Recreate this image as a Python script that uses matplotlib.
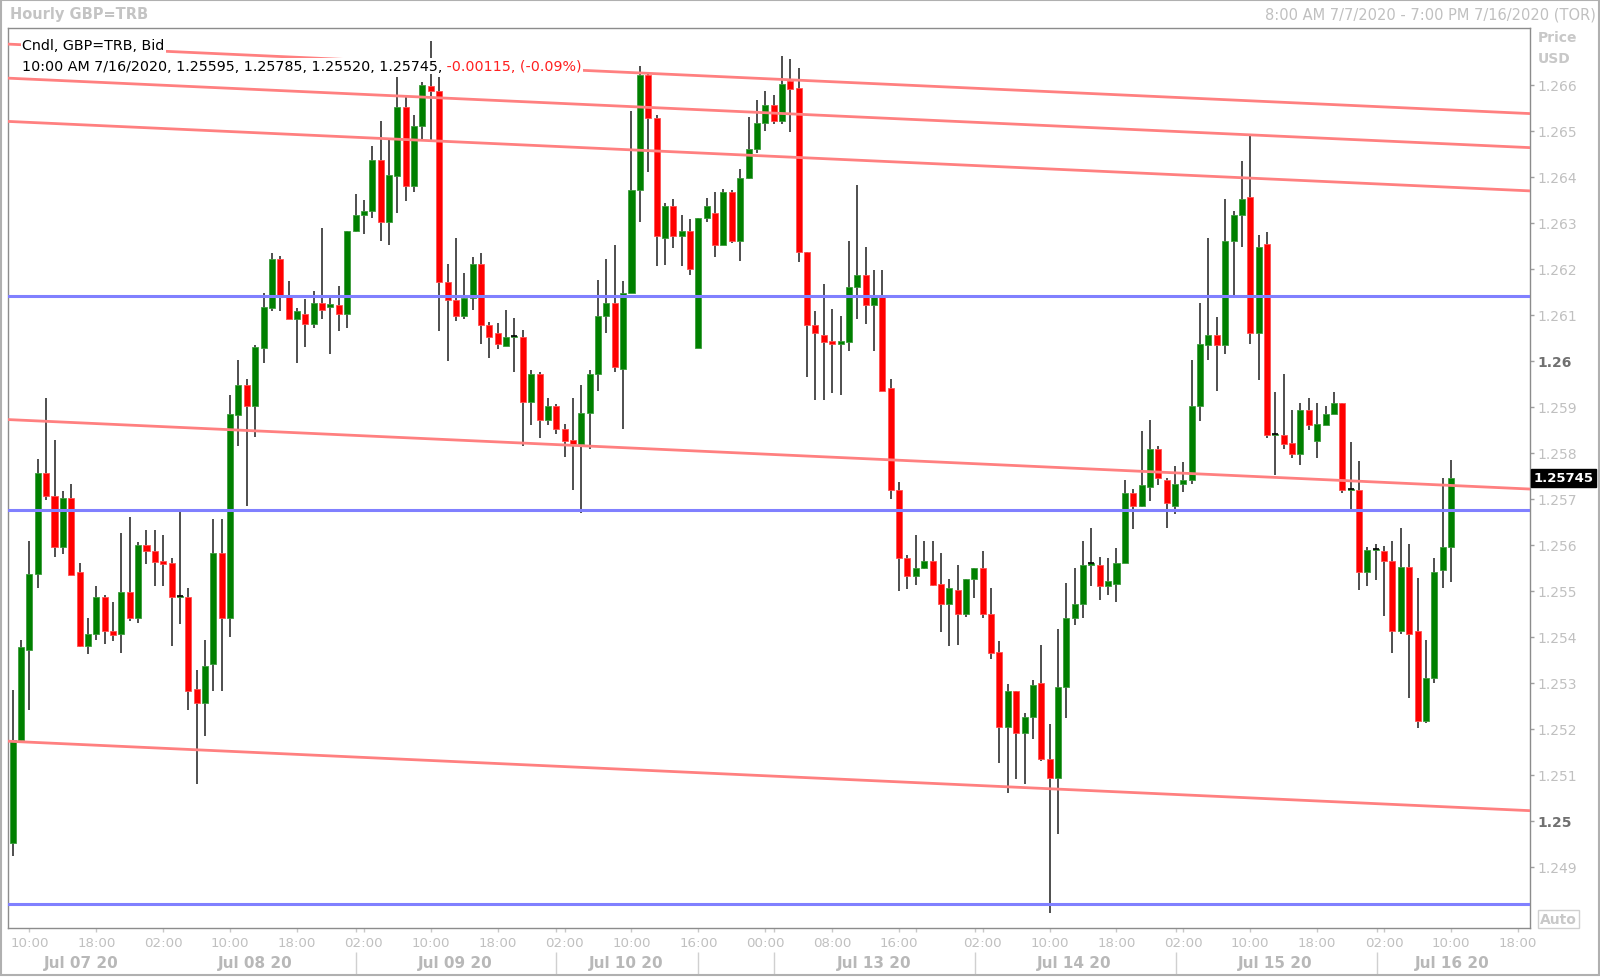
#!/usr/bin/env python3
"""
Hourly GBP candlestick chart with channel lines and horizontal levels
"""

import matplotlib
matplotlib.use('Agg')
import matplotlib.pyplot as plt
import matplotlib.transforms as mtransforms
from matplotlib.patches import Rectangle
import numpy as np

# Hourly candles, 8:00 AM 7/7/2020 -> 10:00 AM 7/16/2020
opens = [
    1.24952, 1.25176, 1.25371, 1.25536, 1.25755, 1.25706, 1.25595, 1.25702, 1.25540, 1.25380,
    1.25406, 1.25487, 1.25412, 1.25406, 1.25497, 1.25440, 1.25600, 1.25586, 1.25565, 1.25560,
    1.25487, 1.25487, 1.25286, 1.25257, 1.25340, 1.25583, 1.25440, 1.25883, 1.25947, 1.25901,
    1.26027, 1.26114, 1.26221, 1.26140, 1.26090, 1.26102, 1.26079, 1.26126, 1.26116, 1.26122,
    1.26101, 1.26281, 1.26316, 1.26325, 1.26436, 1.26302, 1.26401, 1.26552, 1.26380, 1.26511,
    1.26596, 1.26587, 1.26172, 1.26131, 1.26096, 1.26137, 1.26211, 1.26078, 1.26061, 1.26031,
    1.26052, 1.26052, 1.25910, 1.25971, 1.25870, 1.25901, 1.25851, 1.25828, 1.25818, 1.25886,
    1.25971, 1.26098, 1.26126, 1.25982, 1.26148, 1.26372, 1.26620, 1.26527, 1.26267, 1.26337,
    1.26271, 1.26281, 1.26027, 1.26311, 1.26322, 1.26252, 1.26366, 1.26259, 1.26397, 1.26461,
    1.26517, 1.26556, 1.26521, 1.26607, 1.26593, 1.26236, 1.26078, 1.26055, 1.26042, 1.26037,
    1.26040, 1.26160, 1.26186, 1.26121, 1.26139, 1.25941, 1.25718, 1.25571, 1.25532, 1.25550,
    1.25565, 1.25515, 1.25471, 1.25501, 1.25450, 1.25526, 1.25550, 1.25450, 1.25367, 1.25204,
    1.25282, 1.25190, 1.25226, 1.25300, 1.25135, 1.25093, 1.25291, 1.25440, 1.25471, 1.25557,
    1.25557, 1.25510, 1.25514, 1.25560, 1.25712, 1.25685, 1.25726, 1.25807, 1.25741, 1.25685,
    1.25731, 1.25741, 1.25901, 1.26033, 1.26055, 1.26033, 1.26259, 1.26316, 1.26355, 1.26061,
    1.26253, 1.25838, 1.25838, 1.25821, 1.25798, 1.25893, 1.25825, 1.25860, 1.25885, 1.25907,
    1.25720, 1.25720, 1.25540, 1.25588, 1.25586, 1.25565, 1.25412, 1.25551, 1.25412, 1.25216,
    1.25310, 1.25545, 1.25595,
]
highs = [
    1.25284, 1.25392, 1.25609, 1.25786, 1.25919, 1.25827, 1.25717, 1.25731, 1.25561, 1.25441,
    1.25510, 1.25491, 1.25476, 1.25625, 1.25660, 1.25606, 1.25633, 1.25633, 1.25621, 1.25571,
    1.25673, 1.25505, 1.25328, 1.25394, 1.25656, 1.25656, 1.25926, 1.26001, 1.25961, 1.26035,
    1.26148, 1.26233, 1.26227, 1.26174, 1.26114, 1.26134, 1.26151, 1.26288, 1.26142, 1.26163,
    1.26281, 1.26363, 1.26349, 1.26467, 1.26521, 1.26479, 1.26616, 1.26572, 1.26535, 1.26605,
    1.26695, 1.26616, 1.26211, 1.26267, 1.26191, 1.26226, 1.26233, 1.26083, 1.26081, 1.26111,
    1.26093, 1.26067, 1.25980, 1.25975, 1.25919, 1.25905, 1.25863, 1.25919, 1.25947, 1.25980,
    1.26176, 1.26221, 1.26252, 1.26174, 1.26543, 1.26640, 1.26628, 1.26535, 1.26343, 1.26351,
    1.26316, 1.26308, 1.26311, 1.26354, 1.26366, 1.26374, 1.26372, 1.26416, 1.26529, 1.26566,
    1.26587, 1.26578, 1.26663, 1.26655, 1.26637, 1.26236, 1.26107, 1.26167, 1.26113, 1.26096,
    1.26261, 1.26381, 1.26246, 1.26197, 1.26197, 1.25961, 1.25737, 1.25577, 1.25621, 1.25609,
    1.25608, 1.25582, 1.25526, 1.25556, 1.25526, 1.25550, 1.25587, 1.25505, 1.25391, 1.25297,
    1.25282, 1.25235, 1.25306, 1.25381, 1.25211, 1.25416, 1.25516, 1.25550, 1.25609, 1.25636,
    1.25574, 1.25571, 1.25592, 1.25741, 1.25722, 1.25848, 1.25871, 1.25815, 1.25745, 1.25772,
    1.25780, 1.26002, 1.26126, 1.26267, 1.26095, 1.26351, 1.26326, 1.26433, 1.26490, 1.26273,
    1.26280, 1.25931, 1.25971, 1.25893, 1.25907, 1.25919, 1.25907, 1.25901, 1.25932, 1.25907,
    1.25823, 1.25781, 1.25594, 1.25601, 1.25598, 1.25609, 1.25636, 1.25601, 1.25528, 1.25394,
    1.25571, 1.25745, 1.25785,
]
lows = [
    1.24923, 1.25173, 1.25241, 1.25505, 1.25697, 1.25574, 1.25580, 1.25534, 1.25377, 1.25362,
    1.25394, 1.25385, 1.25391, 1.25365, 1.25434, 1.25429, 1.25559, 1.25510, 1.25510, 1.25380,
    1.25427, 1.25241, 1.25080, 1.25185, 1.25281, 1.25281, 1.25400, 1.25815, 1.25685, 1.25834,
    1.25994, 1.26107, 1.26107, 1.26090, 1.25994, 1.26029, 1.26072, 1.26090, 1.26014, 1.26064,
    1.26070, 1.26279, 1.26275, 1.26311, 1.26259, 1.26252, 1.26320, 1.26346, 1.26366, 1.26479,
    1.26479, 1.26064, 1.26000, 1.26087, 1.26090, 1.26111, 1.26037, 1.26005, 1.26026, 1.26031,
    1.25976, 1.25815, 1.25860, 1.25831, 1.25860, 1.25840, 1.25790, 1.25720, 1.25668, 1.25807,
    1.25933, 1.26061, 1.25976, 1.25851, 1.26148, 1.26302, 1.26409, 1.26205, 1.26209, 1.26244,
    1.26205, 1.26186, 1.26027, 1.26302, 1.26226, 1.26252, 1.26256, 1.26217, 1.26395, 1.26451,
    1.26500, 1.26515, 1.26515, 1.26496, 1.26215, 1.25964, 1.25915, 1.25915, 1.25930, 1.25926,
    1.26020, 1.26090, 1.26079, 1.26020, 1.25933, 1.25700, 1.25499, 1.25504, 1.25513, 1.25548,
    1.25510, 1.25410, 1.25379, 1.25381, 1.25443, 1.25485, 1.25440, 1.25352, 1.25125, 1.25060,
    1.25090, 1.25080, 1.25178, 1.25129, 1.24800, 1.24971, 1.25223, 1.25426, 1.25440, 1.25510,
    1.25479, 1.25491, 1.25476, 1.25560, 1.25635, 1.25681, 1.25694, 1.25729, 1.25636, 1.25667,
    1.25714, 1.25731, 1.25869, 1.26002, 1.25933, 1.26014, 1.26137, 1.26246, 1.26037, 1.25959,
    1.25831, 1.25752, 1.25808, 1.25789, 1.25774, 1.25850, 1.25789, 1.25860, 1.25885, 1.25712,
    1.25671, 1.25501, 1.25510, 1.25524, 1.25444, 1.25365, 1.25406, 1.25266, 1.25202, 1.25212,
    1.25299, 1.25505, 1.25520,
]
closes = [
    1.25176, 1.25377, 1.25536, 1.25755, 1.25706, 1.25595, 1.25702, 1.25534, 1.25379, 1.25406,
    1.25487, 1.25412, 1.25404, 1.25497, 1.25440, 1.25600, 1.25586, 1.25563, 1.25559, 1.25487,
    1.25489, 1.25281, 1.25257, 1.25336, 1.25583, 1.25440, 1.25885, 1.25947, 1.25901, 1.26029,
    1.26116, 1.26221, 1.26140, 1.26090, 1.26108, 1.26079, 1.26126, 1.26110, 1.26123, 1.26101,
    1.26281, 1.26316, 1.26325, 1.26436, 1.26302, 1.26403, 1.26552, 1.26380, 1.26511, 1.26599,
    1.26587, 1.26172, 1.26131, 1.26096, 1.26137, 1.26211, 1.26078, 1.26051, 1.26037, 1.26052,
    1.26053, 1.25910, 1.25971, 1.25870, 1.25901, 1.25851, 1.25826, 1.25818, 1.25886, 1.25971,
    1.26098, 1.26126, 1.25986, 1.26148, 1.26372, 1.26620, 1.26527, 1.26271, 1.26337, 1.26271,
    1.26282, 1.26200, 1.26311, 1.26337, 1.26252, 1.26366, 1.26259, 1.26397, 1.26461, 1.26517,
    1.26556, 1.26521, 1.26602, 1.26591, 1.26236, 1.26078, 1.26061, 1.26040, 1.26037, 1.26042,
    1.26160, 1.26186, 1.26121, 1.26139, 1.25933, 1.25718, 1.25571, 1.25532, 1.25550, 1.25565,
    1.25513, 1.25471, 1.25505, 1.25450, 1.25526, 1.25550, 1.25450, 1.25365, 1.25204, 1.25282,
    1.25190, 1.25226, 1.25296, 1.25135, 1.25093, 1.25291, 1.25440, 1.25471, 1.25556, 1.25560,
    1.25510, 1.25522, 1.25560, 1.25712, 1.25685, 1.25729, 1.25807, 1.25745, 1.25691, 1.25731,
    1.25741, 1.25901, 1.26037, 1.26055, 1.26033, 1.26259, 1.26316, 1.26351, 1.26061, 1.26247,
    1.25838, 1.25840, 1.25819, 1.25798, 1.25893, 1.25860, 1.25862, 1.25885, 1.25907, 1.25720,
    1.25721, 1.25540, 1.25588, 1.25590, 1.25565, 1.25412, 1.25551, 1.25406, 1.25216, 1.25310,
    1.25540, 1.25595, 1.25745,
]

# time axis (candle index of each label)
hour_ticks = [2, 10, 18, 26, 34, 42, 50, 58, 66, 74, 82, 90, 98, 106,
              116, 124, 132, 140, 148, 156, 164, 172, 180]
hour_labels = ['10:00', '18:00', '02:00', '10:00', '18:00', '02:00', '10:00', '18:00',
               '02:00', '10:00', '16:00', '00:00', '08:00', '16:00', '02:00', '10:00',
               '18:00', '02:00', '10:00', '18:00', '02:00', '10:00', '18:00']
day_label_pos = [8.2, 29.0, 52.9, 73.4, 103.0, 127.0, 151.0, 172.2]
day_labels = ['Jul 07 20', 'Jul 08 20', 'Jul 09 20', 'Jul 10 20',
              'Jul 13 20', 'Jul 14 20', 'Jul 15 20', 'Jul 16 20']
day_breaks = [41.0, 65.0, 82.0, 91.1, 115.1, 139.1, 163.2]
minor_ticks = [41.0, 65.0, 91.1, 108.0, 115.1, 139.1, 163.2]

# drawn lines
level_prices = [1.26141, 1.25676, 1.24819]
channel_left = [1.26688, 1.26614, 1.26520, 1.25872, 1.25173]
channel_right = [1.26537, 1.26463, 1.26369, 1.25721, 1.25022]

price_ticks = [1.249, 1.250, 1.251, 1.252, 1.253, 1.254, 1.255, 1.256, 1.257,
               1.258, 1.259, 1.260, 1.261, 1.262, 1.263, 1.264, 1.265, 1.266]
last_price = 1.25745


def create_chart():
    W, H = 1600, 978
    fig = plt.figure(figsize=(W / 100, H / 100), dpi=100)
    fig.patch.set_facecolor('white')

    # plot area in pixels: x 8..1530, y 29..929
    ax = fig.add_axes([8 / W, 1 - 929 / H, 1522 / W, 900 / H])
    x_min, x_max = -0.562, 181.45
    ax.set_xlim(x_min, x_max)
    ax.set_ylim(1.24767, 1.26723)

    colors = {
        'up': '#008000', 'up_edge': '#3c9c3c',
        'down': '#ff0000', 'down_edge': '#ff5050',
        'wick': '#404040',
        'channel': '#ff8080',
        'level': '#8080ff',
        'axis_text': '#c0c0c0',
        'frame': '#8c8c8c',
    }

    # candles
    o, h, l, c = (np.array(a) for a in (opens, highs, lows, closes))
    x = np.arange(len(o))
    up = c >= o
    body_w = 0.72
    ax.vlines(x, l, h, color=colors['wick'], lw=1.3, zorder=3)
    ax.bar(x[up], (c - o)[up], bottom=o[up], width=body_w, color=colors['up'],
           edgecolor=colors['up_edge'], linewidth=0.6, zorder=4)
    ax.bar(x[~up], (o - c)[~up], bottom=c[~up], width=body_w, color=colors['down'],
           edgecolor=colors['down_edge'], linewidth=0.6, zorder=4)
    doji = np.abs(c - o) < 0.00004
    ax.hlines(c[doji], x[doji] - body_w / 2, x[doji] + body_w / 2,
              color='black', lw=1.2, zorder=4)

    # channel lines and horizontal levels
    for pl, pr in zip(channel_left, channel_right):
        ax.plot([x_min, x_max], [pl, pr], color=colors['channel'], lw=2, zorder=5)
    for p in level_prices:
        ax.axhline(p, color=colors['level'], lw=2.2, zorder=5)

    # frame
    for s in ax.spines.values():
        s.set_color(colors['frame'])
        s.set_linewidth(1)

    # price axis on the right
    ax.yaxis.tick_right()
    ax.set_yticks(price_ticks)
    ax.set_yticklabels(['{:g}'.format(round(p, 3)) for p in price_ticks])
    ax.tick_params(axis='y', length=3, width=1, color='#a0a0a0', pad=2,
                   labelsize=10, labelcolor=colors['axis_text'])
    for lab, p in zip(ax.get_yticklabels(), price_ticks):
        if abs(p * 100 - round(p * 100)) < 1e-6:
            lab.set_fontweight('bold')
            lab.set_color('#707070')

    # time axis
    ax.set_xticks(hour_ticks)
    ax.set_xticklabels(hour_labels)
    ax.set_xticks(minor_ticks, minor=True)
    ax.tick_params(axis='x', which='both', length=3, width=1, color='#c8c8c8',
                   pad=3, labelsize=9.6, labelcolor=colors['axis_text'])
    blend = mtransforms.blended_transform_factory(ax.transData, ax.transAxes)
    for pos, lab in zip(day_label_pos, day_labels):
        ax.text(pos, -(964 - 929) / 900, lab, transform=blend, ha='center', va='center',
                fontsize=11, fontweight='bold', color='#b8b8b8')
    ax.vlines(day_breaks, -(953 - 929) / 900, -(976 - 929) / 900, transform=blend,
              color='#d0d0d0', lw=1, clip_on=False)

    # last price marker
    yblend = mtransforms.blended_transform_factory(ax.transAxes, ax.transData)
    ax.text(1.0025, last_price, '1.25745', transform=yblend, ha='left', va='center',
            fontsize=9.5, fontweight='bold', color='white', zorder=12,
            bbox=dict(boxstyle='square,pad=0.2', facecolor='black', edgecolor='black'))

    # header texts
    fig.text(10 / W, 1 - 15 / H, 'Hourly GBP=TRB', ha='left', va='center',
             fontsize=10.5, fontweight='bold', color='#c4c4c4')
    fig.text(1596 / W, 1 - 15 / H, '8:00 AM 7/7/2020 - 7:00 PM 7/16/2020 (TOR)',
             ha='right', va='center', fontsize=10.5, color='#c0c0c0')
    fig.text(1538 / W, 1 - 38 / H, 'Price', ha='left', va='center',
             fontsize=10, fontweight='bold', color='#c8c8c8')
    fig.text(1538 / W, 1 - 59 / H, 'USD', ha='left', va='center',
             fontsize=10, fontweight='bold', color='#c8c8c8')
    fig.text(1540 / W, 1 - 920 / H, 'Auto', ha='left', va='center',
             fontsize=10, fontweight='bold', color='#c8c8c8',
             bbox=dict(boxstyle='square,pad=0.15', facecolor='white', edgecolor='#d0d0d0'))

    # legend / info lines over the plot
    info_bbox = dict(boxstyle='square,pad=0.1', facecolor='white', edgecolor='none')
    ax.text(22 / W, 1 - 46 / H, 'Cndl, GBP=TRB, Bid', transform=fig.transFigure,
            ha='left', va='center', fontsize=10.3, color='black', zorder=10, bbox=info_bbox)
    t2 = ax.text(22 / W, 1 - 67 / H,
                 '10:00 AM 7/16/2020, 1.25595, 1.25785, 1.25520, 1.25745,',
                 transform=fig.transFigure, ha='left', va='center', fontsize=10.3,
                 color='black', zorder=10, bbox=info_bbox)
    ax.annotate(' -0.00115, (-0.09%)', xy=(1, 0), xycoords=t2, ha='left', va='bottom',
                fontsize=10.3, color='#ff2020', zorder=10, bbox=info_bbox,
                annotation_clip=False)

    # outer frame
    fig.add_artist(Rectangle((0.0006, 0.002), 0.9988, 0.9965, transform=fig.transFigure,
                             fill=False, edgecolor='#b0b0b0', lw=1.5))
    return fig


def main():
    fig = create_chart()
    fig.savefig('out.png', dpi=100, facecolor='white')


if __name__ == "__main__":
    main()
